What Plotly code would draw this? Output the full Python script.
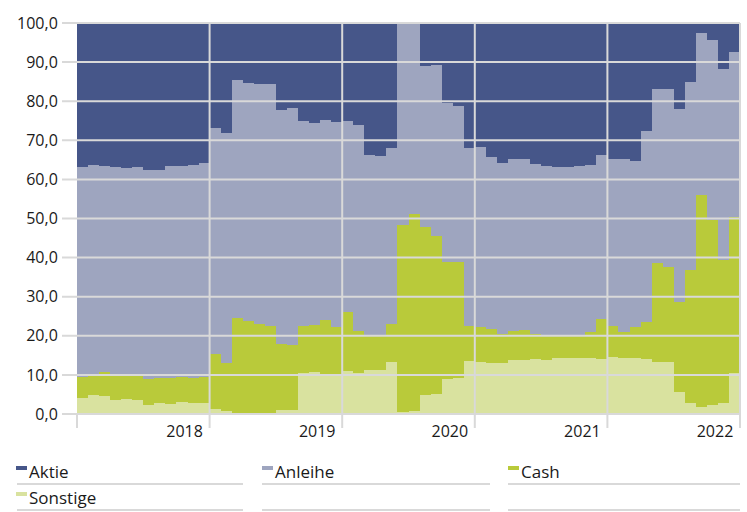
import plotly.graph_objects as go

# ---------------- data ----------------
months = [f"{y}-{m:02d}" for y in range(2017, 2022) for m in range(1, 13)]
year_labels = ["2018", "2019", "2020", "2021", "2022"]
y_ticks = [0, 10, 20, 30, 40, 50, 60, 70, 80, 90, 100]

aktie = [
    36.8, 36.4, 36.5, 36.8, 37.0, 36.8, 37.5, 37.6, 36.5, 36.6, 36.4, 35.8,
    26.8, 28.2, 14.6, 15.3, 15.6, 15.5, 22.3, 21.8, 25.0, 25.5, 24.9, 25.4,
    25.0, 26.1, 33.8, 33.9, 31.9, 0.0, 0.0, 10.9, 10.7, 20.4, 21.1, 31.9,
    31.7, 34.2, 35.9, 34.8, 34.8, 36.0, 36.5, 36.7, 36.9, 36.6, 36.3, 33.8,
    34.7, 34.9, 35.2, 27.5, 16.9, 16.9, 22.1, 15.2, 2.5, 4.3, 11.8, 7.3,
]
anleihe = [
    53.8, 53.8, 52.7, 52.9, 53.0, 53.3, 53.5, 53.1, 54.2, 53.9, 54.3, 54.7,
    57.9, 58.7, 60.9, 60.9, 61.3, 62.1, 59.7, 60.6, 52.4, 51.8, 51.0, 52.3,
    48.8, 52.7, 46.0, 45.9, 45.1, 51.7, 48.9, 41.4, 43.9, 40.7, 40.0, 45.6,
    46.0, 44.1, 43.7, 44.0, 43.8, 43.6, 43.4, 43.2, 43.0, 43.2, 42.8, 41.9,
    42.9, 44.1, 42.6, 49.0, 44.6, 45.4, 49.2, 48.0, 41.5, 46.1, 48.9, 42.3,
]
cash = [
    5.2, 4.9, 6.1, 6.6, 6.2, 6.3, 6.7, 6.6, 6.8, 6.5, 6.4, 6.7,
    14.1, 12.4, 24.3, 23.6, 22.9, 22.2, 16.9, 16.5, 12.2, 12.0, 13.8, 12.1,
    15.2, 10.6, 9.0, 9.0, 9.6, 47.7, 50.4, 42.8, 40.3, 29.9, 29.7, 8.9,
    8.9, 8.6, 7.3, 7.3, 7.6, 6.4, 6.2, 5.9, 5.9, 5.8, 6.6, 10.3,
    7.8, 6.6, 8.0, 9.4, 25.3, 24.3, 23.0, 34.1, 54.2, 47.2, 36.4, 40.0,
]
sonstige = [
    4.2, 4.9, 4.7, 3.7, 3.8, 3.6, 2.3, 2.7, 2.5, 3.0, 2.9, 2.8,
    1.2, 0.7, 0.2, 0.2, 0.2, 0.2, 1.1, 1.1, 10.4, 10.7, 10.3, 10.2,
    11.0, 10.6, 11.2, 11.2, 13.4, 0.6, 0.7, 4.9, 5.1, 9.0, 9.2, 13.6,
    13.4, 13.1, 13.1, 13.9, 13.8, 14.0, 13.9, 14.2, 14.2, 14.4, 14.3, 14.0,
    14.6, 14.4, 14.2, 14.1, 13.2, 13.4, 5.7, 2.7, 1.8, 2.4, 2.9, 10.4,
]

# ---------------- style ----------------
C_AKTIE = "#465689"
C_ANLEIHE = "#9ea5bf"
C_CASH = "#b9ca3a"
C_SONST = "#d9e29f"
GRID = "#d9d9d9"
FONT = "Open Sans"
TXT = "#1a1a1a"

W, H = 747, 512
L, R, T, B = 77, 7, 23, 98
PW, PH = W - L - R, H - T - B


def pxx(x):
    return (x - L) / PW


def pxy(y):
    return (H - B - y) / PH


x_pos = [i + 0.5 for i in range(len(months))]
year_ticks = [i for i, m in enumerate(months) if m.endswith("-01")] + [len(months)]

fig = go.Figure()
series = [
    ("Sonstige", sonstige, C_SONST),
    ("Cash", cash, C_CASH),
    ("Anleihe", anleihe, C_ANLEIHE),
    ("Aktie", aktie, C_AKTIE),
]
for name, vals, col in series:
    fig.add_bar(
        x=x_pos, y=vals, name=name, width=1,
        marker=dict(color=col, line=dict(width=0)),
        customdata=months, showlegend=False,
        hovertemplate="%{customdata}<br>" + name + ": %{y:.1f}<extra></extra>",
    )

shapes = []
# horizontal gridlines (drawn above bars, extending left as tick marks)
for v in y_ticks:
    yy = (v - y_ticks[0]) / (y_ticks[-1] - y_ticks[0])
    shapes.append(dict(type="line", xref="paper", yref="paper",
                       x0=pxx(62), x1=1, y0=yy, y1=yy,
                       line=dict(color=GRID, width=2), layer="above"))
# vertical year gridlines (extending below as tick marks)
for t in year_ticks:
    xx = t / len(months)
    top = 1 if t > 0 else 0
    shapes.append(dict(type="line", xref="paper", yref="paper",
                       x0=xx, x1=xx, y0=pxy(428), y1=top,
                       line=dict(color=GRID, width=2), layer="above"))

# custom legend
legend_items = [
    ("Aktie", C_AKTIE, 16, 471),
    ("Anleihe", C_ANLEIHE, 262, 471),
    ("Cash", C_CASH, 508, 471),
    ("Sonstige", C_SONST, 16, 497),
]
underline_cols = [(17, 243), (262, 490), (508, 740)]
for row_y in (484, 510):
    for x0, x1 in underline_cols:
        shapes.append(dict(type="line", xref="paper", yref="paper",
                           x0=pxx(x0), x1=pxx(x1), y0=pxy(row_y), y1=pxy(row_y),
                           line=dict(color=GRID, width=2)))
annotations = []
for name, col, mx, my in legend_items:
    shapes.append(dict(type="rect", xref="paper", yref="paper",
                       x0=pxx(mx), x1=pxx(mx + 11), y0=pxy(my - 1), y1=pxy(my - 5),
                       fillcolor=col, line=dict(width=0)))
    annotations.append(dict(text=name, xref="paper", yref="paper",
                            x=pxx(mx + 11), y=pxy(my), xanchor="left", yanchor="middle",
                            showarrow=False, font=dict(family=FONT, size=17, color=TXT)))

fig.update_layout(
    width=W, height=H,
    margin=dict(l=L, r=R, t=T, b=B, pad=0),
    paper_bgcolor="white", plot_bgcolor="white",
    barmode="stack", bargap=0,
    separators=",.",
    font=dict(family=FONT, size=16, color=TXT),
    showlegend=False,
    shapes=shapes,
    annotations=annotations,
    xaxis=dict(range=[0, len(months)], tickmode="array", tickvals=year_ticks,
               ticktext=[""] + year_labels, ticks="outside", ticklen=3,
               tickcolor="rgba(0,0,0,0)", ticklabelshift=-25,
               showgrid=False, zeroline=False, showline=False,
               tickfont=dict(family=FONT, size=16, color=TXT)),
    yaxis=dict(range=[y_ticks[0], y_ticks[-1]], tickmode="array", tickvals=y_ticks,
               tickformat=".1f", ticks="outside", ticklen=15,
               tickcolor="rgba(0,0,0,0)",
               showgrid=False, zeroline=False, showline=False,
               tickfont=dict(family=FONT, size=16, color=TXT)),
)

fig.write_html("out.html", config={"displayModeBar": False},
               post_script="document.body.style.margin='0';")
